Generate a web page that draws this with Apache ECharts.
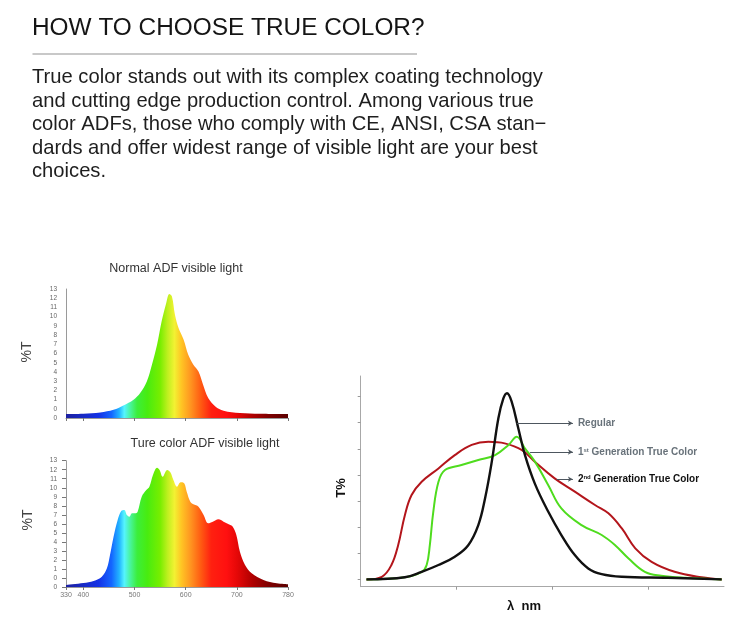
<!DOCTYPE html>
<html>
<head>
<meta charset="utf-8">
<script src="https://cdn.jsdelivr.net/npm/echarts@6/dist/echarts.min.js"></script>
<style>
html,body{margin:0;padding:0;background:#fff;}
#chart{width:750px;height:624px;}
</style>
</head>
<body>
<div id="chart"></div>
<script>
// ---------- data ----------
var headerText = 'HOW TO CHOOSE TRUE COLOR?';
var paragraphLines = [
  'True color stands out with its complex coating technology',
  'and cutting edge production control. Among various true',
  'color ADFs, those who comply with CE, ANSI, CSA stan\u2212',
  'dards and offer widest range of visible light are your best',
  'choices.'
];
var titleNormal = 'Normal ADF visible light';
var titleTrue = 'Ture color ADF visible light';

// spectrum x axis (wavelength, nm) tick positions and their printed labels
var specTickPos = [366, 400, 500, 600, 700, 800];
var specTickLabels = ['330', '400', '500', '600', '700', '780'];
// spectrum y axis labels (value -1 printed as "0")
var specYLabels = ['0', '0', '1', '2', '3', '4', '5', '6', '7', '8', '9', '10', '11', '12', '13'];

// Normal ADF spectrum: [nm, %T]
var normalSpectrum = [
  [366, -0.57], [400, -0.53], [433, -0.39], [459, -0.1], [478, 0.37], [498, 0.99],
  [511, 1.71], [524, 2.97], [534, 4.79], [544, 6.96], [553, 9.49], [562, 11.49],
  [568, 12.46], [573, 12.2], [579, 10.2], [586, 8.77], [596, 7.5], [605, 5.87],
  [615, 4.79], [625, 4.06], [634, 2.62], [644, 1.17], [658, 0.26], [674, -0.2],
  [706, -0.45], [745, -0.53], [800, -0.57]
];
// True color ADF spectrum: [nm, %T]
var trueSpectrum = [
  [366, -0.78], [400, -0.56], [420, -0.33], [436, 0.14], [446, 1.07], [452, 2.55],
  [459, 4.58], [467, 6.43], [474, 7.43], [480, 7.54], [485, 6.98], [490, 6.79],
  [495, 7.17], [501, 7.17], [506, 7.35], [514, 9.01], [523, 9.75], [529, 10.12],
  [536, 11.42], [544, 12.23], [549, 11.97], [555, 11.23], [564, 11.97], [570, 11.71],
  [576, 10.86], [583, 10.12], [590, 10.6], [597, 10.5], [602, 9.57], [609, 8.46],
  [615, 8.17], [625, 7.9], [635, 6.98], [644, 6.06], [653, 6.24], [664, 6.5],
  [674, 6.24], [684, 5.95], [692, 5.68], [699, 4.76], [706, 2.91], [716, 1.44],
  [729, 0.52], [752, -0.22], [778, -0.59], [800, -0.7]
];
// spectrum colour by wavelength
var spectrumColors = [
  [366, '#1c20a0'], [430, '#1432e6'], [455, '#1466ff'], [470, '#22b4ff'],
  [480, '#55f4ff'], [492, '#48f49a'], [505, '#3cee3c'], [525, '#48ec10'],
  [550, '#78ee00'], [565, '#c0f020'], [578, '#f2f232'], [592, '#ffc424'],
  [610, '#ff9420'], [630, '#ff5a12'], [650, '#ff2010'], [680, '#ff1010'],
  [700, '#e60808'], [730, '#b00000'], [760, '#820000'], [800, '#5a0000']
];

// comparison curves: [relative wavelength unit, T%]
var regularCurve = [
  [0.06, 0], [0.46, 0.08], [0.635, 0.29], [0.81, 0.55], [0.98, 0.87], [1.12, 1.31],
  [1.225, 2.08], [1.295, 3.1], [1.365, 4.5], [1.434, 6.17], [1.486, 6.93], [1.524, 7.13],
  [1.573, 6.8], [1.642, 5.78], [1.711, 4.76], [1.816, 3.65], [1.954, 2.59], [2.09, 1.7],
  [2.23, 0.93], [2.37, 0.42], [2.51, 0.2], [2.72, 0.1], [3.2, 0.06], [3.76, 0]
];
var firstGenCurve = [
  [0.06, 0], [0.46, 0.08], [0.635, 0.29], [0.687, 0.55], [0.72, 1.31], [0.756, 2.59],
  [0.81, 3.74], [0.878, 4.19], [1.05, 4.38], [1.225, 4.57], [1.4, 4.76], [1.54, 5.15],
  [1.625, 5.46], [1.71, 5.02], [1.816, 4.5], [1.954, 3.61], [2.09, 2.72], [2.3, 2.08],
  [2.51, 1.7], [2.65, 1.31], [2.79, 0.8], [2.96, 0.29], [3.13, 0.14], [3.38, 0.06], [3.76, 0]
];
var secondGenCurve = [
  [0.06, 0], [0.22, 0.1], [0.32, 0.55], [0.39, 1.31], [0.46, 2.46], [0.53, 3.23],
  [0.635, 3.74], [0.81, 4.25], [0.98, 4.76], [1.156, 5.15], [1.33, 5.27], [1.5, 5.21],
  [1.68, 4.95], [1.816, 4.5], [2.02, 3.87], [2.23, 3.36], [2.44, 2.85], [2.58, 2.53],
  [2.72, 1.95], [2.86, 1.19], [3.03, 0.67], [3.27, 0.29], [3.55, 0.08], [3.76, 0]
];
var curveNames = ['Regular', '1st Generation True Color', '2nd Generation True Color'];
var curveLabels = ['Regular', '{n|1}{s|st}{n| Generation True Color}', '{n|2}{s|nd}{n| Generation True Color}'];
// annotation arrows: [start x, end x, y]
var arrowRegular = [1.625, 2.21, 5.98];
var arrowFirst = [1.764, 2.21, 4.88];
var arrowSecond = [2.04, 2.21, 3.84];

// ---------- chart ----------
var FONT = '"Liberation Sans", Arial, Helvetica, sans-serif';
var chart = echarts.init(document.getElementById('chart'), null, {renderer: 'canvas'});

function spectrumGradient() {
  var lo = specTickPos[0], hi = specTickPos[specTickPos.length - 1];
  return new echarts.graphic.LinearGradient(0, 0, 1, 0, spectrumColors.map(function (s) {
    return {offset: (s[0] - lo) / (hi - lo), color: s[1]};
  }));
}

function specXAxis(idx, showLabels) {
  return {
    type: 'value', gridIndex: idx,
    min: specTickPos[0], max: specTickPos[specTickPos.length - 1],
    axisLine: {show: true, onZero: false, lineStyle: {color: '#9a9a9a', width: 1}},
    axisTick: {show: true, customValues: specTickPos, length: 3, lineStyle: {color: '#777'}},
    axisLabel: {
      show: showLabels, customValues: specTickPos, fontSize: 7, color: '#777', margin: 5, fontFamily: FONT,
      formatter: function (v) { var i = specTickPos.indexOf(v); return i >= 0 ? specTickLabels[i] : ''; }
    },
    splitLine: {show: false}
  };
}
function specYAxis(idx, showTicks) {
  return {
    type: 'value', gridIndex: idx, min: -1, max: 13, interval: 1,
    axisLine: {show: true, onZero: false, lineStyle: {color: '#9a9a9a', width: 1}},
    axisTick: {show: showTicks, length: 4, lineStyle: {color: '#777'}},
    axisLabel: {
      fontSize: 6.5, color: '#666', margin: 9, fontFamily: FONT,
      formatter: function (v) { return specYLabels[Math.round(v) + 1]; }
    },
    splitLine: {show: false}
  };
}

function arrowMark(a, label, color) {
  return {
    silent: true, symbol: ['none', 'arrow'], symbolSize: [4, 5], animation: false,
    lineStyle: {color: '#4d565e', width: 1, type: 'solid'},
    label: {
      show: true, position: 'end', distance: 5, formatter: label,
      color: color, fontSize: 10, fontWeight: 'bold', fontFamily: FONT,
      rich: {
        n: {color: color, fontSize: 10, fontWeight: 'bold', fontFamily: FONT},
        s: {color: color, fontSize: 6, fontWeight: 'bold', fontFamily: FONT, verticalAlign: 'top', padding: [0, 0, 4, 0]}
      }
    },
    emphasis: {disabled: true},
    data: [[{coord: [a[0], a[2]]}, {coord: [a[1], a[2]]}]]
  };
}

var option = {
  animation: false,
  backgroundColor: '#ffffff',
  textStyle: {fontFamily: FONT},
  grid: [
    {left: 66, top: 289, width: 222, height: 129},
    {left: 66, top: 460.7, width: 222, height: 126.3},
    {left: 360.7, top: 376, width: 363.3, height: 210.7}
  ],
  xAxis: [
    specXAxis(0, false),
    specXAxis(1, true),
    {
      type: 'value', gridIndex: 2, min: 0, max: 3.784,
      axisLine: {show: true, onZero: false, lineStyle: {color: '#a8a8a8', width: 1}},
      axisTick: {show: true, customValues: [1, 2, 3], length: 3, lineStyle: {color: '#999'}},
      axisLabel: {show: false},
      splitLine: {show: false}
    }
  ],
  yAxis: [
    specYAxis(0, false),
    specYAxis(1, true),
    {
      type: 'value', gridIndex: 2, min: -0.28, max: 7.79,
      axisLine: {show: true, onZero: false, lineStyle: {color: '#a8a8a8', width: 1}},
      axisTick: {show: true, customValues: [0, 1, 2, 3, 4, 5, 6, 7], length: 3, lineStyle: {color: '#999'}},
      axisLabel: {show: false},
      splitLine: {show: false}
    }
  ],
  series: [
    {
      name: titleNormal, type: 'line', xAxisIndex: 0, yAxisIndex: 0, data: normalSpectrum,
      smooth: 0.35, symbol: 'none', lineStyle: {width: 0},
      areaStyle: {color: spectrumGradient(), opacity: 1, origin: 'start'}
    },
    {
      name: titleTrue, type: 'line', xAxisIndex: 1, yAxisIndex: 1, data: trueSpectrum,
      smooth: 0.35, symbol: 'none', lineStyle: {width: 0},
      areaStyle: {color: spectrumGradient(), opacity: 1, origin: 'start'}
    },
    {
      name: curveNames[2], type: 'line', xAxisIndex: 2, yAxisIndex: 2, data: secondGenCurve,
      smooth: 0.4, symbol: 'none', lineStyle: {color: '#b3151b', width: 2},
      markLine: arrowMark(arrowSecond, curveLabels[2], '#111111')
    },
    {
      name: curveNames[1], type: 'line', xAxisIndex: 2, yAxisIndex: 2, data: firstGenCurve,
      smooth: 0.4, symbol: 'none', lineStyle: {color: '#4fdc1e', width: 2},
      markLine: arrowMark(arrowFirst, curveLabels[1], '#68727a')
    },
    {
      name: curveNames[0], type: 'line', xAxisIndex: 2, yAxisIndex: 2, data: regularCurve,
      smooth: 0.4, symbol: 'none', lineStyle: {color: '#111111', width: 2.4},
      markLine: arrowMark(arrowRegular, curveLabels[0], '#68727a')
    }
  ],
  graphic: [
    {type: 'text', left: 32, top: 16, style: {text: headerText, font: '24.4px ' + FONT, fill: '#151515'}},
    {type: 'line', shape: {x1: 32.5, y1: 54, x2: 417, y2: 54}, style: {stroke: '#c8c8c8', lineWidth: 2}},
    {type: 'text', left: 32, top: 66, style: {text: paragraphLines.join('\n'), font: '20.2px ' + FONT, fill: '#1e1e1e', lineHeight: 23.5}},
    {type: 'text', x: 176, y: 269, style: {text: titleNormal, font: '12.5px ' + FONT, fill: '#333', align: 'center', verticalAlign: 'middle'}},
    {type: 'text', x: 205, y: 444, style: {text: titleTrue, font: '12.5px ' + FONT, fill: '#333', align: 'center', verticalAlign: 'middle'}},
    {type: 'text', x: 27, y: 352, rotation: Math.PI / 2, style: {text: '%T', font: '14px ' + FONT, fill: '#444', align: 'center', verticalAlign: 'middle'}},
    {type: 'text', x: 28, y: 520, rotation: Math.PI / 2, style: {text: '%T', font: '14px ' + FONT, fill: '#444', align: 'center', verticalAlign: 'middle'}},
    {type: 'text', x: 341, y: 488, rotation: Math.PI / 2, style: {text: 'T%', font: 'bold 13px ' + FONT, fill: '#111', align: 'center', verticalAlign: 'middle'}},
    {type: 'text', x: 524, y: 606, style: {text: '\u03bb  nm', font: 'bold 13px ' + FONT, fill: '#111', align: 'center', verticalAlign: 'middle'}}
  ]
};
chart.setOption(option);
</script>
</body>
</html>
